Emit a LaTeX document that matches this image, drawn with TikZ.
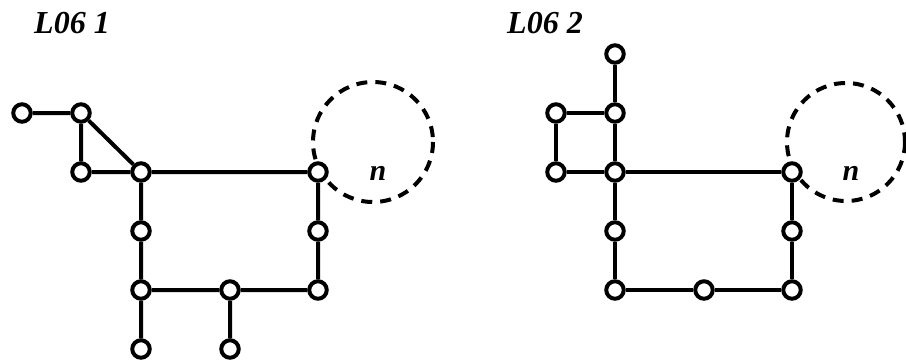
\documentclass[tikz,border=0pt]{standalone}
\usepackage{fontspec}
\setmainfont{Liberation Serif}
\begin{document}
\begin{tikzpicture}[x=1pt,y=-1pt,
  vtx/.style={circle,draw,fill=white,line width=4pt,minimum size=17.5pt,inner sep=0pt},
  edge/.style={line width=4pt},
  loopc/.style={line width=4pt,dash pattern=on 11pt off 8pt},
  ttl/.style={font=\fontsize{32}{36}\selectfont\bfseries\itshape},
  lbl/.style={font=\fontsize{30}{34}\selectfont\bfseries\itshape}]
\useasboundingbox (0,0) rectangle (906,360);
% left panel
\node[ttl] (t1) at (72,23) {L06 1};
\draw[loopc] (373,142) circle (60);
\node[lbl] (n1) at (378,173) {n};
\node[vtx] (a1) at (22,113) {};
\node[vtx] (b1) at (81,113) {};
\node[vtx] (c1) at (81,172) {};
\node[vtx] (d1) at (141,172) {};
\node[vtx] (e1) at (318,172) {};
\node[vtx] (f1) at (141,231) {};
\node[vtx] (g1) at (318,231) {};
\node[vtx] (h1) at (141,290) {};
\node[vtx] (i1) at (230,290) {};
\node[vtx] (j1) at (318,290) {};
\node[vtx] (k1) at (141,349) {};
\node[vtx] (l1) at (230,349) {};
\draw[edge] (a1)--(b1) (b1)--(c1) (b1)--(d1) (c1)--(d1) (d1)--(e1)
  (d1)--(f1) (f1)--(h1) (e1)--(g1) (g1)--(j1) (h1)--(i1) (i1)--(j1)
  (h1)--(k1) (i1)--(l1);
% right panel
\node[ttl] (t2) at (545,23) {L06 2};
\draw[loopc] (846,142) circle (59);
\node[lbl] (n2) at (851,173) {n};
\node[vtx] (a2) at (615,54) {};
\node[vtx] (b2) at (556,113) {};
\node[vtx] (c2) at (615,113) {};
\node[vtx] (d2) at (556,172) {};
\node[vtx] (e2) at (615,172) {};
\node[vtx] (f2) at (792,172) {};
\node[vtx] (g2) at (615,231) {};
\node[vtx] (h2) at (792,231) {};
\node[vtx] (i2) at (615,290) {};
\node[vtx] (j2) at (704,290) {};
\node[vtx] (k2) at (792,290) {};
\draw[edge] (a2)--(c2) (b2)--(c2) (b2)--(d2) (c2)--(e2) (d2)--(e2)
  (e2)--(f2) (e2)--(g2) (g2)--(i2) (f2)--(h2) (h2)--(k2)
  (i2)--(j2) (j2)--(k2);
\end{tikzpicture}
\end{document}
